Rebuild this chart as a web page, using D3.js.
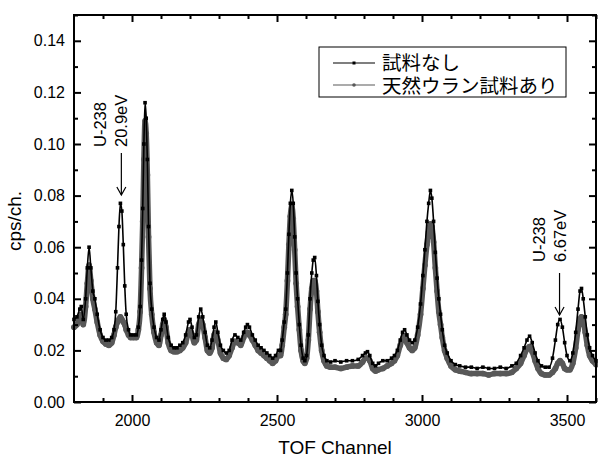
<!DOCTYPE html>
<html><head><meta charset="utf-8">
<script src="https://cdn.jsdelivr.net/npm/d3@7"></script>
<style>body{margin:0;background:#fff} svg{display:block}</style>
</head><body>
<script>
// ---- data ----
const channels = [
 1800,1810,1820,1825,1832,1840,1846,1852,1858,1865,
 1872,1880,1890,1900,1910,1920,1930,1938,1944,1950,
 1955,1960,1965,1970,1975,1980,1988,1995,2005,2015,
 2022,2028,2033,2037,2041,2045,2049,2053,2057,2062,
 2068,2076,2085,2093,2100,2106,2111,2117,2125,2135,
 2145,2155,2165,2175,2185,2195,2200,2207,2215,2222,
 2230,2237,2244,2252,2260,2268,2276,2283,2289,2296,
 2305,2315,2325,2335,2345,2355,2365,2375,2385,2392,
 2398,2405,2415,2425,2435,2445,2455,2465,2475,2485,
 2495,2505,2512,2518,2525,2530,2536,2541,2546,2551,
 2556,2561,2566,2571,2577,2583,2590,2596,2602,2608,
 2614,2620,2625,2630,2636,2641,2647,2654,2662,2672,
 2685,2700,2720,2740,2760,2780,2795,2805,2812,2820,
 2830,2840,2850,2865,2880,2895,2905,2915,2925,2933,
 2940,2948,2957,2966,2975,2985,2995,3003,3010,3017,
 3023,3029,3034,3040,3046,3052,3058,3064,3070,3078,
 3087,3100,3115,3130,3150,3170,3190,3210,3230,3250,
 3270,3290,3310,3325,3340,3352,3362,3371,3380,3390,
 3400,3412,3425,3438,3450,3460,3468,3476,3484,3492,
 3500,3510,3520,3530,3538,3545,3550,3556,3563,3570,
 3578,3588,3600];
const noSample = [
 .032,.033,.036,.037,.032,.040,.052,.060,.052,.043,
 .040,.034,.028,.025,.024,.024,.025,.028,.035,.052,
 .068,.077,.074,.061,.045,.034,.028,.026,.026,.026,
 .029,.037,.055,.075,.100,.116,.110,.094,.068,.046,
 .036,.029,.025,.024,.028,.032,.034,.031,.025,.022,
 .021,.021,.022,.023,.026,.031,.032,.029,.025,.026,
 .033,.036,.033,.027,.022,.021,.024,.029,.031,.027,
 .022,.020,.019,.020,.024,.026,.025,.024,.027,.029,
 .030,.029,.026,.024,.022,.021,.020,.019,.018,.017,
 .018,.020,.020,.024,.031,.036,.050,.065,.077,.082,
 .077,.064,.050,.040,.030,.022,.017,.016,.018,.026,
 .040,.050,.055,.056,.049,.039,.030,.022,.018,.016,
 .0155,.016,.0155,.016,.016,.0165,.018,.019,.0195,.018,
 .015,.014,.015,.016,.016,.017,.018,.020,.024,.027,
 .028,.026,.024,.023,.024,.029,.038,.049,.059,.070,
 .077,.082,.079,.070,.058,.048,.040,.034,.028,.022,
 .019,.016,.0145,.014,.0135,.0135,.013,.0135,.013,.013,
 .0135,.013,.014,.015,.018,.021,.024,.0255,.023,.019,
 .016,.014,.0135,.0135,.017,.024,.030,.032,.029,.023,
 .018,.016,.019,.027,.036,.043,.044,.040,.033,.026,
 .021,.018,.016];
const withUranium = [
 .029,.030,.033,.034,.030,.037,.046,.053,.047,.040,
 .036,.031,.026,.0235,.0225,.022,.023,.026,.029,.031,
 .032,.033,.032,.031,.030,.028,.026,.025,.025,.025,
 .028,.035,.052,.070,.094,.109,.104,.088,.064,.044,
 .034,.027,.023,.022,.026,.030,.032,.029,.023,.020,
 .0195,.0195,.020,.021,.023,.027,.028,.026,.023,.024,
 .030,.032,.030,.025,.020,.019,.021,.026,.027,.024,
 .019,.017,.0165,.018,.021,.0235,.023,.022,.025,.027,
 .027,.026,.024,.022,.020,.019,.018,.017,.016,.015,
 .016,.018,.018,.022,.029,.034,.047,.061,.072,.076,
 .071,.059,.046,.037,.028,.020,.016,.015,.017,.024,
 .036,.044,.047,.047,.043,.035,.027,.020,.016,.014,
 .0135,.0135,.013,.0135,.014,.014,.0155,.017,.017,.016,
 .013,.012,.0125,.013,.014,.015,.016,.018,.022,.0245,
 .0255,.023,.021,.020,.021,.026,.034,.044,.053,.061,
 .066,.069,.068,.062,.052,.043,.035,.030,.025,.020,
 .017,.014,.0125,.012,.0115,.011,.011,.011,.0105,.011,
 .011,.011,.0115,.013,.015,.018,.0205,.0215,.0195,.016,
 .013,.011,.0105,.0105,.0115,.013,.015,.016,.015,.013,
 .0125,.0125,.015,.021,.028,.032,.033,.031,.027,.022,
 .018,.016,.0145];
const seriesNames = ["試料なし", "天然ウラン試料あり"];
const xMajorTicks = [2000, 2500, 3000, 3500];
const xMinorTicks = [1900,2100,2200,2300,2400,2600,2700,2800,2900,3100,3200,3300,3400,3600];
const yMajorTicks = [0.00, 0.02, 0.04, 0.06, 0.08, 0.10, 0.12, 0.14];
const yMinorTicks = [0.01, 0.03, 0.05, 0.07, 0.09, 0.11, 0.13, 0.15];
const annotations = [
  {channel: 1965, line1: "U-238", line2: "20.9eV"},
  {channel: 3476, line1: "U-238", line2: "6.67eV"}
];

// ---- layout ----
const W = 598, H = 457;
const M = {left: 74, right: 596, top: 15, bottom: 402};
const latin = "'Liberation Sans', Arial, sans-serif";
const cjk = "'Noto Sans CJK JP', 'Noto Sans CJK SC', sans-serif";
const grayColor = "#585858";

const svg = d3.select("body").append("svg").attr("width", W).attr("height", H);
const x = d3.scaleLinear().domain([1800, 3600]).range([M.left, M.right]);
const y = d3.scaleLinear().domain([0, 0.15]).range([M.bottom, M.top]);

const black = channels.map((c, i) => [c, noSample[i]]);
const gray = channels.map((c, i) => [c, withUranium[i]]);
const line = d3.line().x(d => x(d[0])).y(d => y(d[1])).curve(d3.curveMonotoneX);

// gray series: thick band of dense gray markers
svg.append("path").datum(gray).attr("d", line)
  .attr("fill", "none").attr("stroke", grayColor).attr("stroke-width", 5.5)
  .attr("stroke-linejoin", "round").attr("stroke-linecap", "round");
svg.append("g").selectAll("circle").data(gray).join("circle")
  .attr("cx", d => x(d[0])).attr("cy", d => y(d[1])).attr("r", 2.9).attr("fill", grayColor);

// black series: line + square markers
svg.append("path").datum(black).attr("d", line)
  .attr("fill", "none").attr("stroke", "#000").attr("stroke-width", 1.6);
svg.append("g").selectAll("rect").data(black).join("rect")
  .attr("x", d => x(d[0]) - 1.8).attr("y", d => y(d[1]) - 1.8)
  .attr("width", 3.6).attr("height", 3.6).attr("fill", "#000");

// ---- axes (Origin-style frame, ticks inside) ----
function styleAxis(g) {
  g.selectAll(".domain").remove();
  g.selectAll("line").attr("stroke", "#000").attr("stroke-width", 2);
  g.selectAll("text").attr("fill", "#000").style("font-family", latin).style("font-size", "16px");
}
svg.append("g").attr("transform", `translate(0,${M.bottom})`)
  .call(d3.axisBottom(x).tickValues(xMajorTicks).tickSize(-7).tickPadding(13).tickFormat(d3.format("d")))
  .call(styleAxis);
svg.append("g").attr("transform", `translate(0,${M.bottom})`)
  .call(d3.axisBottom(x).tickValues(xMinorTicks).tickSize(-4).tickFormat(""))
  .call(styleAxis);
svg.append("g").attr("transform", `translate(0,${M.top})`)
  .call(d3.axisTop(x).tickValues(xMajorTicks).tickSize(-7).tickFormat(""))
  .call(styleAxis);
svg.append("g").attr("transform", `translate(0,${M.top})`)
  .call(d3.axisTop(x).tickValues(xMinorTicks).tickSize(-4).tickFormat(""))
  .call(styleAxis);
svg.append("g").attr("transform", `translate(${M.left},0)`)
  .call(d3.axisLeft(y).tickValues(yMajorTicks).tickSize(-7).tickPadding(9).tickFormat(d3.format(".2f")))
  .call(styleAxis);
svg.append("g").attr("transform", `translate(${M.left},0)`)
  .call(d3.axisLeft(y).tickValues(yMinorTicks).tickSize(-4).tickFormat(""))
  .call(styleAxis);
svg.append("g").attr("transform", `translate(${M.right},0)`)
  .call(d3.axisRight(y).tickValues(yMajorTicks).tickSize(-7).tickFormat(""))
  .call(styleAxis);
svg.append("g").attr("transform", `translate(${M.right},0)`)
  .call(d3.axisRight(y).tickValues(yMinorTicks).tickSize(-4).tickFormat(""))
  .call(styleAxis);

svg.append("rect").attr("x", M.left).attr("y", M.top)
  .attr("width", M.right - M.left).attr("height", M.bottom - M.top)
  .attr("fill", "none").attr("stroke", "#000").attr("stroke-width", 2);

// axis titles
svg.append("text").attr("x", (M.left + M.right) / 2).attr("y", 454)
  .attr("text-anchor", "middle").style("font-family", latin).style("font-size", "19px")
  .text("TOF Channel");
svg.append("text").attr("transform", "translate(21,221) rotate(-90)")
  .attr("text-anchor", "middle").style("font-family", latin).style("font-size", "19px")
  .text("cps/ch.");

// ---- annotations ----
const annotY = [{textBottom: 147, arrowTop: 153, arrowBottom: 195},
                {textBottom: 262, arrowTop: 273, arrowBottom: 315}];
annotations.forEach((a, i) => {
  const ax = x(a.channel) - 0.5;
  const p = annotY[i];
  svg.append("text").attr("transform", `translate(${ax - 15},${p.textBottom}) rotate(-90)`)
    .style("font-family", latin).style("font-size", "16.5px").text(a.line1);
  svg.append("text").attr("transform", `translate(${ax + 6},${p.textBottom}) rotate(-90)`)
    .style("font-family", latin).style("font-size", "16.5px").text(a.line2);
  svg.append("line").attr("x1", ax).attr("x2", ax).attr("y1", p.arrowTop).attr("y2", p.arrowBottom)
    .attr("stroke", "#000").attr("stroke-width", 1.2);
  svg.append("path")
    .attr("d", `M${ax - 4.5},${p.arrowBottom - 8} L${ax},${p.arrowBottom} L${ax + 4.5},${p.arrowBottom - 8}`)
    .attr("fill", "none").attr("stroke", "#000").attr("stroke-width", 1.2);
});

// ---- legend ----
const lg = svg.append("g");
lg.append("rect").attr("x", 319).attr("y", 47).attr("width", 247).attr("height", 50)
  .attr("fill", "#fff").attr("stroke", "#000").attr("stroke-width", 1);
const legendRows = [{y: 63, color: "#000", sq: true, base: 70}, {y: 85, color: grayColor, sq: false, base: 93}];
legendRows.forEach((r, i) => {
  lg.append("line").attr("x1", 333).attr("x2", 375).attr("y1", r.y).attr("y2", r.y)
    .attr("stroke", r.color).attr("stroke-width", 1.2);
  if (r.sq) lg.append("rect").attr("x", 352.5).attr("y", r.y - 1.5).attr("width", 3).attr("height", 3).attr("fill", r.color);
  else lg.append("circle").attr("cx", 354).attr("cy", r.y).attr("r", 1.8).attr("fill", r.color);
  lg.append("text").attr("x", 382).attr("y", r.base)
    .style("font-family", cjk).style("font-size", "19.5px").attr("fill", "#000")
    .text(seriesNames[i]);
});
</script>
</body></html>
